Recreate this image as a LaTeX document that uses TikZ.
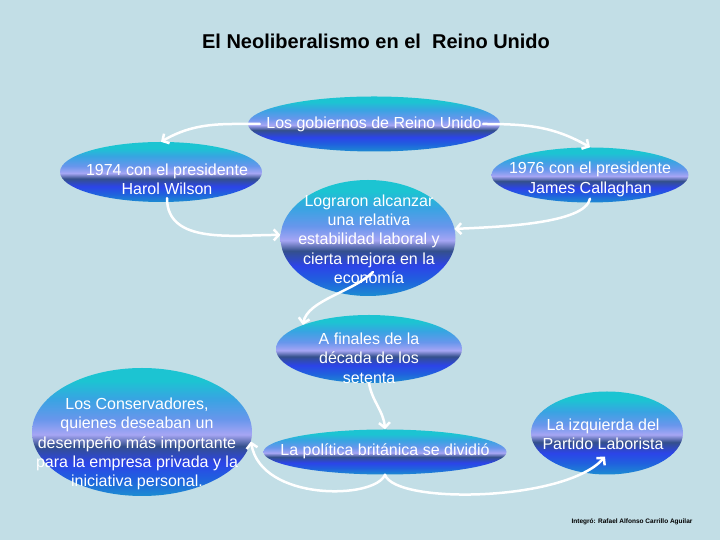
\documentclass[tikz,border=0pt]{standalone}
\usepackage{fontspec}
\setmainfont{Liberation Sans}
\usetikzlibrary{arrows.meta,calc,shapes.geometric}
\definecolor{bgc}{RGB}{194,222,230}
\definecolor{oczero}{RGB}{28,196,210}
\definecolor{ocone}{RGB}{56,164,226}
\definecolor{octwo}{RGB}{104,150,236}
\definecolor{octhree}{RGB}{166,166,244}
\definecolor{ocfour}{RGB}{52,80,140}
\definecolor{ocfive}{RGB}{44,68,232}
\definecolor{ocsix}{RGB}{32,96,222}
\definecolor{ocseven}{RGB}{28,140,210}
\pgfdeclareverticalshading{ocean}{100bp}{color(0bp)=(ocseven); color(25bp)=(ocseven); color(32bp)=(ocsix); color(38bp)=(ocfive); color(44.5bp)=(ocfour); color(49bp)=(octhree); color(55bp)=(octwo); color(63bp)=(ocone); color(70bp)=(oczero); color(100bp)=(oczero)}
\tikzset{
  oval/.style={ellipse, inner sep=0pt, shade, shading=ocean},
  txt/.style={text=white, font=\fontsize{16}{19.3}\selectfont, align=center, inner sep=0pt},
  conn/.style={draw=white, line width=2.5pt, line cap=round, -{Straight Barb[length=5pt,width=11pt]}}
}
\begin{document}
\begin{tikzpicture}[x=1pt,y=1pt]
\fill[bgc] (0,0) rectangle (720,540);
\useasboundingbox (0,0) rectangle (720,540);
\node[font=\fontsize{20}{24}\selectfont\bfseries, anchor=base, inner sep=0pt] (title) at (376,491) {El Neoliberalismo en el~~Reino Unido};
% ellipses
\node[oval, minimum width=252pt, minimum height=55pt] (gob) at (374,416) {};
\node[oval, minimum width=202pt, minimum height=60pt] (n74) at (161,368) {};
\node[oval, minimum width=197pt, minimum height=55pt] (n76) at (590,365) {};
\node[oval, minimum width=175pt, minimum height=116pt] (logr) at (368,302) {};
\node[oval, minimum width=186pt, minimum height=68pt] (fin) at (369,191) {};
\node[oval, minimum width=243pt, minimum height=45pt] (pol) at (385,88) {};
\node[oval, minimum width=152pt, minimum height=83pt] (izq) at (607,107) {};
\node[oval, minimum width=220pt, minimum height=128pt] (cons) at (142,108) {};
% texts
\node[txt] (gobt) at (374,416) {Los gobiernos de Reino Unido};
\node[txt] (n74t) at (167,360.5) {1974 con el presidente\\Harol Wilson};
\node[txt] (n76t) at (590,360.5) {1976 con el presidente\\James Callaghan};
\node[txt] (logrt) at (369,301) {Lograron alcanzar\\una relativa\\estabilidad laboral y\\cierta mejora en la\\economía};
\node[txt] (fint) at (369,182) {A finales de la\\década de los\\setenta};
\node[txt] (polt) at (385,89) {La política británica se dividió};
\node[txt] (izqt) at (603,105.5) {La izquierda del\\Partido Laborista};
\node[txt] (const) at (137,96) {Los Conservadores,\\quienes deseaban un\\desempeño más importante\\para la empresa privada y la\\iniciativa personal.};
\node[font=\fontsize{6.5}{8}\selectfont\bfseries, inner sep=0pt] (credit) at (632,18) {Integró: Rafael Alfonso Carrillo Aguilar};
% connectors
\draw[conn] ($(gob.west)+(12,0)$) to[out=180,in=30] (n74.north);
\draw[conn] ($(gob.east)+(-17,0)$) to[out=0,in=150] (n76.north);
\draw[conn] ($(n74.south)+(6,4)$) to[out=-90,in=180] (logr.178);
\draw[conn] ($(n76.south)+(0,4)$) .. controls +(-5,-25) and +(45,2) .. (logr.6);
\draw[conn] ($(logr.center)+(5,-34)$) .. controls +(-20,-20) and +(5,25) .. (fin.160);
\draw[conn] (fin.south) to[out=-80,in=95] (pol.north);
\draw[conn] (pol.south) .. controls +(-10,-25) and +(10,-60) .. (cons.-5);
\draw[conn] (pol.south) .. controls +(10,-30) and +(-40,-45) .. ($(izq.south)+(-2,18)$);
\end{tikzpicture}
\end{document}
